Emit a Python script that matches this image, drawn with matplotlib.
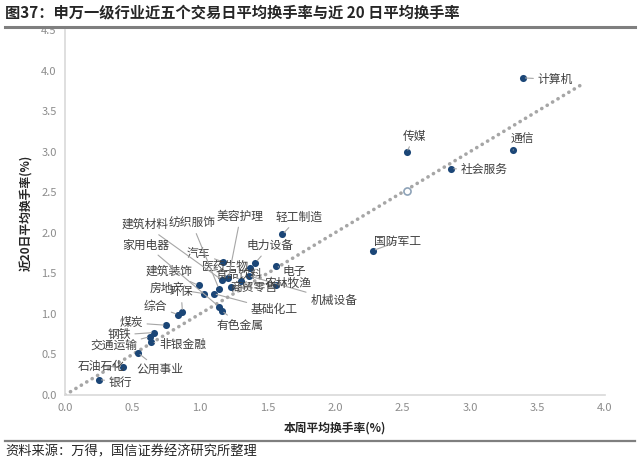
import matplotlib
matplotlib.use("Agg")
import matplotlib.pyplot as plt
from matplotlib.lines import Line2D

plt.rcParams['font.family'] = ['Noto Sans CJK SC', 'DejaVu Sans']

# 申万一级行业: 本周平均换手率 / 近20日平均换手率 (%)
industries = [
    "计算机", "通信", "传媒", "社会服务", "国防军工", "轻工制造",
    "汽车", "电力设备", "电子", "食品饮料", "机械设备", "医药生物",
    "建筑材料", "美容护理", "商贸零售", "农林牧渔", "建筑装饰", "房地产",
    "基础化工", "纺织服饰", "家用电器", "有色金属", "综合", "环保",
    "煤炭", "钢铁", "交通运输", "非银金融", "公用事业", "石油石化", "银行",
]
week_turnover = [
    3.39, 3.32, 2.53, 2.86, 2.28, 1.61,
    1.17, 1.41, 1.56, 1.37, 1.36, 1.30,
    1.16, 1.21, 1.23, 1.56, 0.99, 1.03,
    1.10, 1.14, 1.14, 1.16, 0.84, 0.87,
    0.75, 0.66, 0.63, 0.64, 0.54, 0.43, 0.25,
]
month_turnover = [
    3.91, 3.02, 2.99, 2.79, 1.78, 1.98,
    1.64, 1.63, 1.59, 1.56, 1.47, 1.41,
    1.42, 1.44, 1.33, 1.35, 1.35, 1.25,
    1.25, 1.31, 1.09, 1.04, 0.99, 1.02,
    0.86, 0.77, 0.72, 0.65, 0.52, 0.35, 0.19,
]
avg_week, avg_month = 2.53, 2.52
ref_line_end = 3.82

# label placement (data coords) and horizontal alignment
label_pos = {
    "计算机": (3.50, 3.89, "left"), "通信": (3.39, 3.15, "center"),
    "传媒": (2.59, 3.19, "center"), "社会服务": (2.93, 2.78, "left"),
    "国防军工": (2.29, 1.89, "left"), "轻工制造": (1.73, 2.19, "center"),
    "汽车": (0.99, 1.75, "center"), "电力设备": (1.52, 1.84, "center"),
    "电子": (1.70, 1.52, "center"), "食品饮料": (1.29, 1.49, "center"),
    "机械设备": (1.99, 1.17, "center"), "医药生物": (1.19, 1.58, "center"),
    "建筑材料": (0.59, 2.10, "center"), "美容护理": (1.30, 2.20, "center"),
    "商贸零售": (1.40, 1.32, "center"), "农林牧渔": (1.65, 1.38, "center"),
    "建筑装饰": (0.77, 1.52, "center"), "房地产": (0.76, 1.32, "center"),
    "基础化工": (1.55, 1.05, "center"), "纺织服饰": (0.94, 2.12, "center"),
    "家用电器": (0.60, 1.85, "center"), "有色金属": (1.30, 0.86, "center"),
    "综合": (0.67, 1.09, "center"), "环保": (0.86, 1.27, "center"),
    "煤炭": (0.49, 0.89, "center"), "钢铁": (0.40, 0.74, "center"),
    "交通运输": (0.36, 0.60, "center"), "非银金融": (0.87, 0.62, "center"),
    "公用事业": (0.70, 0.31, "center"), "石油石化": (0.27, 0.35, "center"),
    "银行": (0.41, 0.16, "center"),
}

DOT = "#1B4677"
GRID_GREY = "#D9D9D9"
TEXT = "#404040"

fig = plt.figure(figsize=(6.4, 4.63), dpi=100)
ax = fig.add_axes([0.1016, 0.1469, 0.8437, 0.7883])

ax.plot([0, ref_line_end], [0, ref_line_end], color="#A6A6A6", lw=2.6,
        linestyle=(0, (0.05, 1.7)), dash_capstyle="round", zorder=1)
ax.scatter(week_turnover, month_turnover, s=26, color=DOT, zorder=3, linewidths=0)
ax.scatter([avg_week], [avg_month], s=26, facecolor="white",
           edgecolor="#8EA3B8", linewidths=1.2, zorder=3)

for name, x, y in zip(industries, week_turnover, month_turnover):
    tx, ty, ha = label_pos[name]
    ax.annotate(name, xy=(x, y), xytext=(tx, ty), ha=ha, va="center",
                fontsize=8.5, color=TEXT, zorder=4,
                arrowprops=dict(arrowstyle="-", color="#A6A6A6", lw=0.8,
                                shrinkA=1, shrinkB=2))

ax.set_xlim(0, 4.0)
ax.set_ylim(0, 4.5)
ax.set_xticks([i * 0.5 for i in range(9)])
ax.set_yticks([i * 0.5 for i in range(10)])
ax.set_xticklabels([f"{i * 0.5:.1f}" for i in range(9)])
ax.set_yticklabels([f"{i * 0.5:.1f}" for i in range(10)])
ax.tick_params(length=0, labelsize=8, labelcolor="#8C8C8C", pad=6)
for s in ["top", "right"]:
    ax.spines[s].set_visible(False)
for s in ["left", "bottom"]:
    ax.spines[s].set_color(GRID_GREY)
    ax.spines[s].set_linewidth(1.2)

ax.set_xlabel("本周平均换手率(%)", fontsize=8.5, fontweight="bold", color="#262626", labelpad=6)
ax.set_ylabel("近20日平均换手率(%)", fontsize=8.5, fontweight="bold", color="#262626", labelpad=6)

fig.text(0.008, 0.972, "图37：申万一级行业近五个交易日平均换手率与近 20 日平均换手率",
         fontsize=11, fontweight="bold", color="#262626", va="center", ha="left")
fig.add_artist(Line2D([0.008, 0.992], [0.942, 0.942], color="#7F7F7F", lw=2.2))
fig.add_artist(Line2D([0.008, 0.992], [0.047, 0.047], color="#7F7F7F", lw=1.6))
fig.text(0.008, 0.024, "资料来源：万得，国信证券经济研究所整理",
         fontsize=9.5, color="#262626", va="center", ha="left")

fig.savefig("out.png", dpi=100)
